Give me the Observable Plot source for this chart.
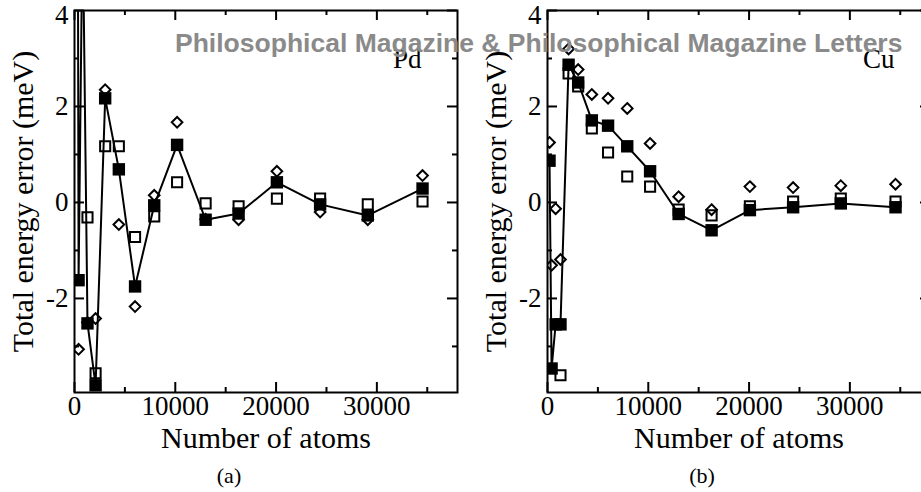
<!DOCTYPE html>
<html>
<head>
<meta charset="utf-8">
<script src="https://cdn.jsdelivr.net/npm/d3@7"></script>
<script src="https://cdn.jsdelivr.net/npm/@observablehq/plot@0.6"></script>
<style>
  html, body { margin: 0; padding: 0; background: white; }
  body { width: 921px; height: 492px; overflow: hidden; position: relative; }
  .panel { position: absolute; top: 0; }
  #wm { position: absolute; left: 175px; top: 30px; font: bold 26.5px "Liberation Sans", Arial, sans-serif;
        color: #8a8a8a; white-space: nowrap; line-height: 1; }
</style>
</head>
<body>
<div id="left" class="panel" style="left:0px"></div>
<div id="right" class="panel" style="left:470px"></div>
<div id="wm">Philosophical Magazine &amp; Philosophical Magazine Letters</div>
<script>
// ---- data ----
const nAtoms = [201, 405, 807, 1289, 2093, 3043, 4399, 6009, 7911, 10179, 13011, 16281, 20081, 24369, 29099, 34531];

const pdFilled  = [20, -1.62, 6, -2.52, -3.81, 2.17, 0.69, -1.75, -0.06, 1.2, -0.36, -0.23, 0.42, -0.04, -0.27, 0.29];
const pdOpen    = [null, null, null, -0.31, -3.56, 1.17, 1.17, -0.72, -0.29, 0.42, -0.02, -0.08, 0.08, 0.08, -0.04, 0.02];
const pdDiamond = [null, -3.06, null, -2.5, -2.42, 2.35, -0.46, -2.17, 0.15, 1.67, -0.35, -0.36, 0.65, -0.2, -0.36, 0.56];

const cuFilled  = [0.87, -3.46, -2.54, -2.54, 2.87, 2.5, 1.71, 1.6, 1.17, 0.65, -0.24, -0.58, -0.16, -0.1, -0.02, -0.1];
const cuOpen    = [null, null, null, -3.6, 2.69, 2.42, 1.54, 1.04, 0.54, 0.33, -0.15, -0.27, -0.08, 0.02, 0.08, 0.02];
const cuDiamond = [1.25, -1.31, -0.13, -1.19, 3.2, 2.77, 2.25, 2.17, 1.96, 1.23, 0.12, -0.15, 0.33, 0.31, 0.35, 0.38];

const xMajor = [0, 10000, 20000, 30000];
const xMinor = [5000, 15000, 25000, 35000];
const yMajor = [-2, 0, 2, 4];
const yMinor = [-3, -1, 1, 3];

const xTitle = "Number of atoms";
const yTitle = "Total energy error (meV)";

// ---- chart ----
function panel({filled, open, diamond, element, subLabel, caption, marginLeft}) {
  const rows = nAtoms.map((n, i) => ({n, filled: filled[i], open: open[i], diamond: diamond[i]}));
  const marginRight = 13, marginTop = 10, marginBottom = 100, height = 492;
  const innerW = 383;
  const width = marginLeft + innerW + marginRight;
  const innerH = height - marginTop - marginBottom;
  const MAJ = 10, MIN = 5;
  const tk = {stroke: "black", strokeWidth: 2};
  const yTop = yMajor[yMajor.length - 1];
  return Plot.plot({
    width, height, marginLeft, marginRight, marginTop, marginBottom,
    x: {domain: [0, 38000]},
    y: {domain: [-3.96, 4]},
    style: {fontFamily: "'Liberation Serif', 'Times New Roman', serif", background: "transparent",
            overflow: "visible", maxWidth: "none", color: "black"},
    marks: [
      // inward ticks on all four sides
      Plot.tickX(xMajor, {x: d => d, insetTop: innerH - MAJ, ...tk}),
      Plot.tickX(xMinor, {x: d => d, insetTop: innerH - MIN, ...tk}),
      Plot.tickX(xMajor, {x: d => d, insetBottom: innerH - MAJ, ...tk}),
      Plot.tickX(xMinor, {x: d => d, insetBottom: innerH - MIN, ...tk}),
      Plot.tickY(yMajor, {y: d => d, insetRight: innerW - MAJ, ...tk}),
      Plot.tickY(yMinor, {y: d => d, insetRight: innerW - MIN, ...tk}),
      Plot.tickY(yMajor, {y: d => d, insetLeft: innerW - MAJ, ...tk}),
      Plot.tickY(yMinor, {y: d => d, insetLeft: innerW - MIN, ...tk}),
      Plot.axisX(xMajor, {tickSize: 0, tickPadding: 3, fontSize: 27, label: null, tickFormat: d => String(d)}),
      Plot.axisY(yMajor.filter(d => d !== yTop), {tickSize: 0, tickPadding: 6, fontSize: 27, label: null, tickFormat: d => String(d)}),
      Plot.axisY([yTop], {tickSize: 0, tickPadding: 6, fontSize: 27, label: null, dy: 5, tickFormat: d => String(d)}),
      // data
      Plot.dot(rows, {x: "n", y: "diamond", symbol: "diamond2", r: 4.8, fill: "none", stroke: "black", strokeWidth: 2, clip: true}),
      Plot.dot(rows, {x: "n", y: "open", symbol: "square", r: 5.7, fill: "none", stroke: "black", strokeWidth: 2, clip: true}),
      Plot.line(rows, {x: "n", y: "filled", stroke: "black", strokeWidth: 2, clip: true}),
      Plot.dot(rows, {x: "n", y: "filled", symbol: "square", r: 7, fill: "black", stroke: "none", clip: true}),
      Plot.frame({stroke: "black", strokeWidth: 2}),
      // texts
      Plot.text([element], {frameAnchor: "top-right", textAnchor: "end", lineAnchor: "middle", dx: -36, dy: 49, fontSize: 27}),
      Plot.text([xTitle], {frameAnchor: "bottom", textAnchor: "middle", lineAnchor: "top", dy: 34, fontSize: 30}),
      Plot.text([yTitle], {frameAnchor: "left", textAnchor: "middle", rotate: -90, lineAnchor: "middle", dx: -51, fontSize: 30}),
      Plot.text([caption], {frameAnchor: "bottom", textAnchor: "middle", lineAnchor: "top", dy: 75, dx: subLabel, fontSize: 22})
    ]
  });
}

document.getElementById("left").append(panel({
  filled: pdFilled, open: pdOpen, diamond: pdDiamond, element: "Pd", caption: "(a)", subLabel: -37, marginLeft: 74
}));
document.getElementById("right").append(panel({
  filled: cuFilled, open: cuOpen, diamond: cuDiamond, element: "Cu", caption: "(b)", subLabel: -37, marginLeft: 77
}));
</script>
</body>
</html>
